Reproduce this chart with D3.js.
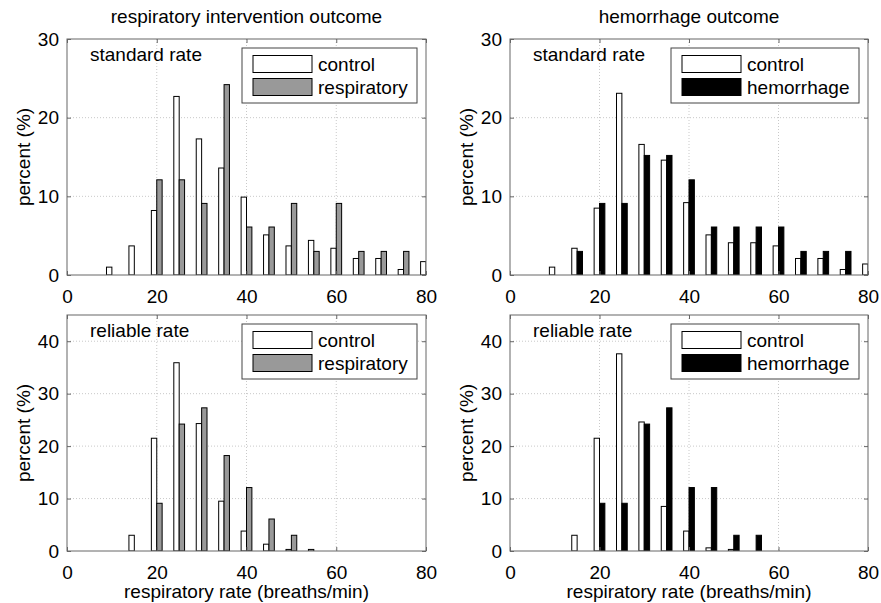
<!DOCTYPE html>
<html>
<head>
<meta charset="utf-8">
<script src="https://cdn.jsdelivr.net/npm/d3@7"></script>
<style>
  body { margin: 0; background: #fff; }
  text { font-family: "Liberation Sans", Arial, sans-serif; fill: #000; }
</style>
</head>
<body>
<svg id="mainsvg" width="881" height="603"></svg>
<script>
// bin centres (breaths/min)
const bins = [10, 15, 20, 25, 30, 35, 40, 45, 50, 55, 60, 65, 70, 75, 80];

// standard rate, percent
const stdControlResp = [1.0, 3.7, 8.2, 22.7, 17.3, 13.6, 9.9, 5.1, 3.7, 4.4, 3.4, 2.1, 2.1, 0.7, 1.7];
const stdResp        = [0, 0, 12.1, 12.1, 9.1, 24.2, 6.1, 6.1, 9.1, 3.0, 9.1, 3.0, 3.0, 3.0, 0];
const stdControlHem  = [1.0, 3.4, 8.5, 23.1, 16.6, 14.6, 9.2, 5.1, 4.1, 4.1, 3.7, 2.1, 2.1, 0.7, 1.4];
const stdHem         = [0, 3.0, 9.1, 9.1, 15.2, 15.2, 12.1, 6.1, 6.1, 6.1, 6.1, 3.0, 3.0, 3.0, 0];

// reliable rate, percent
const relControlResp = [0, 3.0, 21.5, 35.9, 24.3, 9.5, 3.8, 1.3, 0.3, 0.3, 0, 0, 0, 0, 0];
const relResp        = [0, 0, 9.1, 24.2, 27.3, 18.2, 12.1, 6.1, 3.0, 0, 0, 0, 0, 0, 0];
const relControlHem  = [0, 3.0, 21.5, 37.6, 24.6, 8.5, 3.8, 0.6, 0.3, 0, 0, 0, 0, 0, 0];
const relHem         = [0, 0, 9.1, 9.1, 24.2, 27.3, 12.1, 12.1, 3.0, 3.0, 0, 0, 0, 0, 0];

const xTicks = [0, 20, 40, 60, 80];
const yTicksStd = [0, 10, 20, 30];
const yTicksRel = [0, 10, 20, 30, 40];

const svg = d3.select('#mainsvg');
const fontSize = 19;
const frameColor = '#666';

// panel layout
const panels = [
  { x0: 67, x1: 426, y0: 39, y1: 275, ymax: 30, yTicks: yTicksStd, control: stdControlResp, other: stdResp,
    otherName: 'respiratory', otherFill: '#999', note: 'standard rate', legW: 175, title: 'respiratory intervention outcome' },
  { x0: 510, x1: 868, y0: 39, y1: 275, ymax: 30, yTicks: yTicksStd, control: stdControlHem, other: stdHem,
    otherName: 'hemorrhage', otherFill: '#000', note: 'standard rate', legW: 188, title: 'hemorrhage outcome' },
  { x0: 67, x1: 426, y0: 315, y1: 551, ymax: 45, yTicks: yTicksRel, control: relControlResp, other: relResp,
    otherName: 'respiratory', otherFill: '#999', note: 'reliable rate', legW: 175, xlabel: true },
  { x0: 510, x1: 868, y0: 315, y1: 551, ymax: 45, yTicks: yTicksRel, control: relControlHem, other: relHem,
    otherName: 'hemorrhage', otherFill: '#000', note: 'reliable rate', legW: 188, xlabel: true }
];

const barW = 1.2; // in breaths/min units

panels.forEach((p, i) => {
  const x = d3.scaleLinear().domain([0, 80]).range([p.x0, p.x1]);
  const y = d3.scaleLinear().domain([0, p.ymax]).range([p.y1, p.y0]);
  const g = svg.append('g');

  // clip
  g.append('clipPath').attr('id', 'clip' + i)
    .append('rect')
    .attr('x', p.x0).attr('y', p.y0)
    .attr('width', p.x1 - p.x0).attr('height', p.y1 - p.y0);

  // grid
  g.append('g').selectAll('line')
    .data(xTicks.slice(1, -1))
    .join('line')
    .attr('x1', d => x(d)).attr('x2', d => x(d))
    .attr('y1', p.y0).attr('y2', p.y1)
    .attr('stroke', '#bbb').attr('stroke-width', 0.8)
    .attr('stroke-dasharray', '1,2');

  g.append('g').selectAll('line')
    .data(p.yTicks.filter(d => d > 0 && d < p.ymax))
    .join('line')
    .attr('x1', p.x0).attr('x2', p.x1)
    .attr('y1', d => y(d)).attr('y2', d => y(d))
    .attr('stroke', '#bbb').attr('stroke-width', 0.8)
    .attr('stroke-dasharray', '1,2');

  // bars
  const bars = g.append('g').attr('clip-path', `url(#clip${i})`);
  const rows = bins.map((b, k) => ({ b, c: p.control[k], o: p.other[k] }));

  bars.selectAll('rect.control')
    .data(rows.filter(d => d.c > 0))
    .join('rect')
    .attr('class', 'control')
    .attr('x', d => x(d.b - barW))
    .attr('width', x(barW) - x(0))
    .attr('y', d => y(d.c))
    .attr('height', d => y(0) - y(d.c))
    .attr('fill', '#fff')
    .attr('stroke', '#000')
    .attr('stroke-width', 1);

  bars.selectAll('rect.other')
    .data(rows.filter(d => d.o > 0))
    .join('rect')
    .attr('class', 'other')
    .attr('x', d => x(d.b))
    .attr('width', x(barW) - x(0))
    .attr('y', d => y(d.o))
    .attr('height', d => y(0) - y(d.o))
    .attr('fill', p.otherFill)
    .attr('stroke', '#000')
    .attr('stroke-width', 1);

  // axes (ticks inward, box on)
  const tick = 4;
  const ax = g.append('g').attr('transform', `translate(0,${p.y1})`)
    .call(d3.axisBottom(x).tickValues(xTicks).tickSize(-tick).tickPadding(10).tickFormat(d3.format('d')));
  const axTop = g.append('g').attr('transform', `translate(0,${p.y0})`)
    .call(d3.axisTop(x).tickValues(xTicks).tickSize(-tick).tickFormat(''));
  const ay = g.append('g').attr('transform', `translate(${p.x0},0)`)
    .call(d3.axisLeft(y).tickValues(p.yTicks).tickSize(-tick).tickPadding(8).tickFormat(d3.format('d')));
  const ayR = g.append('g').attr('transform', `translate(${p.x1},0)`)
    .call(d3.axisRight(y).tickValues(p.yTicks).tickSize(-tick).tickFormat(''));

  [ax, axTop, ay, ayR].forEach(a => {
    a.select('.domain').remove();
    a.selectAll('.tick line').attr('stroke', frameColor);
    a.selectAll('text').attr('font-size', fontSize).attr('fill', '#000')
      .attr('font-family', '"Liberation Sans", Arial, sans-serif');
  });
  ax.selectAll('text').attr('dy', '0.95em');

  // frame
  g.append('rect')
    .attr('x', p.x0).attr('y', p.y0)
    .attr('width', p.x1 - p.x0).attr('height', p.y1 - p.y0)
    .attr('fill', 'none').attr('stroke', frameColor).attr('stroke-width', 1);

  // note text
  g.append('text')
    .attr('x', p.x0 + 23)
    .attr('y', p.y0 + 22)
    .attr('font-size', fontSize)
    .text(p.note);

  // legend
  const lx = p.x1 - 9 - p.legW;
  const ly = p.y0 + 9;
  const leg = g.append('g');
  leg.append('rect')
    .attr('x', lx).attr('y', ly)
    .attr('width', p.legW).attr('height', 55)
    .attr('fill', '#fff').attr('stroke', '#444').attr('stroke-width', 1);

  const items = [{ name: 'control', fill: '#fff' }, { name: p.otherName, fill: p.otherFill }];
  items.forEach((it, k) => {
    const cy = ly + 16 + k * 23;
    leg.append('rect')
      .attr('x', lx + 11).attr('y', cy - 8.5)
      .attr('width', 59).attr('height', 17)
      .attr('fill', it.fill).attr('stroke', '#000').attr('stroke-width', 1);
    leg.append('text')
      .attr('x', lx + 76).attr('y', cy + 6.5)
      .attr('font-size', fontSize)
      .text(it.name);
  });

  // y label
  g.append('text')
    .attr('transform', `translate(${p.x0 - 37},${(p.y0 + p.y1) / 2}) rotate(-90)`)
    .attr('text-anchor', 'middle')
    .attr('font-size', fontSize)
    .text('percent (%)');

  if (p.title) {
    g.append('text')
      .attr('x', (p.x0 + p.x1) / 2).attr('y', 23)
      .attr('text-anchor', 'middle')
      .attr('font-size', fontSize)
      .text(p.title);
  }
  if (p.xlabel) {
    g.append('text')
      .attr('x', (p.x0 + p.x1) / 2).attr('y', 598)
      .attr('text-anchor', 'middle')
      .attr('font-size', fontSize)
      .text('respiratory rate (breaths/min)');
  }
});
</script>
</body>
</html>
